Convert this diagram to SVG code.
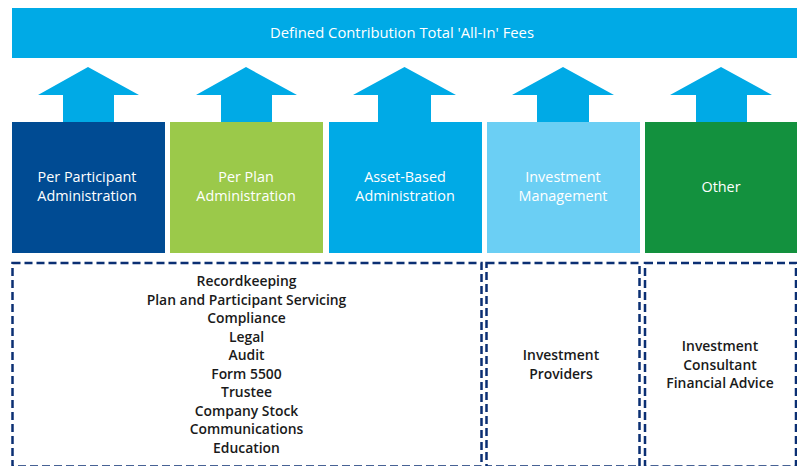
<svg xmlns="http://www.w3.org/2000/svg" width="797" height="466" viewBox="0 0 797 466">
<style>
.hdr{font-family:"Open Sans","Noto Sans","Liberation Sans",sans-serif;font-size:14.8px;fill:#ffffff;text-anchor:middle;font-weight:500}
.lbl{font-family:"Open Sans","Noto Sans","Liberation Sans",sans-serif;font-size:14.4px;fill:#ffffff;text-anchor:middle;font-weight:500}
.txt{font-family:"Open Sans","Noto Sans","Liberation Sans",sans-serif;font-size:13.9px;fill:#1a1a1a;text-anchor:middle;font-weight:600}
.arrow{fill:#00aae6}
.dash{fill:none;stroke:#0b2f73;stroke-width:2.5;stroke-dasharray:8 4}
</style>
<rect width="797" height="466" fill="#ffffff"/>
<g id="total-fees">
<rect x="12" y="8" width="785" height="50" fill="#00aae6"/>
<text class="hdr" x="402" y="38">Defined Contribution Total 'All-In' Fees</text>
</g>
<g id="connectors">
<polygon class="arrow" points="88,67 139,95 114,95 114,122 63,122 63,95 38,95"/>
<polygon class="arrow" points="246,67 297,95 272,95 272,122 221,122 221,95 196,95"/>
<polygon class="arrow" points="404.5,67 456,95 431,95 431,122 378,122 378,95 353,95"/>
<polygon class="arrow" points="563,67 614,95 589,95 589,122 537,122 537,95 512,95"/>
<polygon class="arrow" points="721,67 772,95 747,95 747,122 696,122 696,95 670,95"/>
</g>
<g id="per-participant">
<rect x="12" y="122" width="153" height="131" fill="#004b93"/>
<text class="lbl" x="87" y="182">Per Participant</text>
<text class="lbl" x="87" y="201">Administration</text>
</g>
<g id="per-plan">
<rect x="170" y="122" width="153" height="131" fill="#9bc94a"/>
<text class="lbl" x="246" y="182">Per Plan</text>
<text class="lbl" x="246" y="201">Administration</text>
</g>
<g id="asset-based">
<rect x="329" y="122" width="153" height="131" fill="#00aae6"/>
<text class="lbl" x="405" y="182">Asset-Based</text>
<text class="lbl" x="405" y="201">Administration</text>
</g>
<g id="investment-management">
<rect x="487" y="122" width="153" height="131" fill="#6bcff4"/>
<text class="lbl" x="563" y="182">Investment</text>
<text class="lbl" x="563" y="201">Management</text>
</g>
<g id="other">
<rect x="645" y="122" width="152" height="131" fill="#13913e"/>
<text class="lbl" x="721" y="192">Other</text>
</g>
<g id="admin-services">
<rect class="dash" x="12.5" y="263" width="469" height="203.5"/>
<text class="txt" x="246.5" y="286">Recordkeeping</text>
<text class="txt" x="246.5" y="304.5">Plan and Participant Servicing</text>
<text class="txt" x="246.5" y="323">Compliance</text>
<text class="txt" x="246.5" y="341.5">Legal</text>
<text class="txt" x="246.5" y="360">Audit</text>
<text class="txt" x="246.5" y="378.5">Form 5500</text>
<text class="txt" x="246.5" y="397">Trustee</text>
<text class="txt" x="246.5" y="415.5">Company Stock</text>
<text class="txt" x="246.5" y="434">Communications</text>
<text class="txt" x="246.5" y="452.5">Education</text>
</g>
<g id="investment-providers">
<rect class="dash" x="486.5" y="263" width="153" height="203.5"/>
<text class="txt" x="561" y="360">Investment</text>
<text class="txt" x="561" y="379">Providers</text>
</g>
<g id="other-services">
<rect class="dash" x="645" y="263" width="151" height="203.5"/>
<text class="txt" x="720" y="351">Investment</text>
<text class="txt" x="720" y="370">Consultant</text>
<text class="txt" x="720" y="388">Financial Advice</text>
</g>
</svg>
